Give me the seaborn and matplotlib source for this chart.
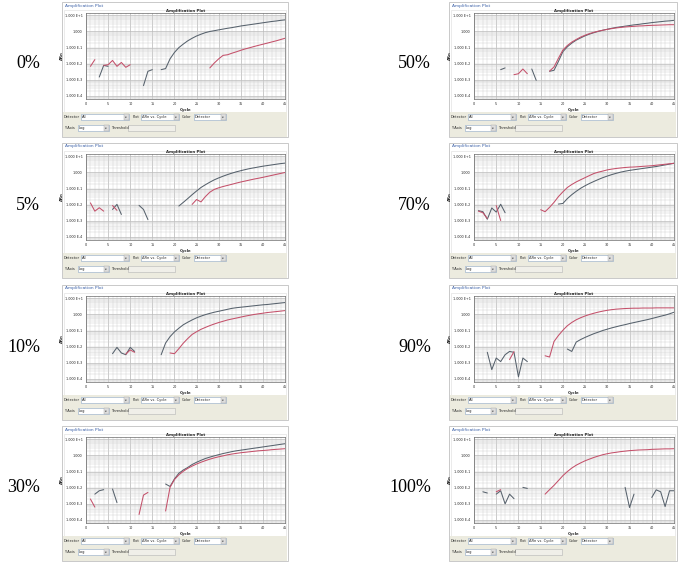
"""Eight qPCR amplification plots (Ycac / Hcac) at different mixing ratios."""

import matplotlib
matplotlib.use("Agg")
import matplotlib.pyplot as plt
from matplotlib.patches import Rectangle
from matplotlib.ticker import FixedLocator, LogLocator, NullFormatter
import numpy as np
import pandas as pd
import seaborn as sns

nan = np.nan
FIG_W, FIG_H = 689, 564

CYCLES = list(range(1, 46))
X_TICKS = list(range(0, 46, 5))
Y_TICKS = [1e1, 1e0, 1e-1, 1e-2, 1e-3, 1e-4]
Y_TICK_LABELS = ["1.000 E+1", "1.000", "1.000 E-1", "1.000 E-2", "1.000 E-3", "1.000 E-4"]
SERIES = ["Ycac", "Hcac"]
PALETTE = {"Ycac": "#56616c", "Hcac": "#c4506a"}
PANEL_LABELS = ["0%", "5%", "10%", "30%", "50%", "70%", "90%", "100%"]

# delta Rn per cycle (1..45), nan where the software drops the point
ycac_0 = ([nan, nan, 1.5e-3, 7.9e-3, 6.9e-3] + [nan] * 7 + [4.4e-4, 3.4e-3, 4.3e-3, nan]
          + [4.3e-3, 5.0e-3, 0.020, 0.050, 0.10, 0.166, 0.263, 0.38, 0.525, 0.676, 0.85, 1.0,
             1.12, 1.26, 1.41, 1.58, 1.74, 1.95, 2.19, 2.40, 2.63, 2.88, 3.16, 3.47, 3.8,
             4.17, 4.47, 4.9, 5.25])
hcac_0 = ([6.9e-3, 0.018, nan, 7.9e-3, 8.7e-3, 0.016, 6.9e-3, 0.012, 6.0e-3, 8.7e-3] + [nan] * 17
          + [5.5e-3, 0.011, 0.020, 0.033, 0.036, 0.045, 0.055, 0.068, 0.083, 0.098, 0.117,
             0.138, 0.162, 0.19, 0.224, 0.263, 0.316, 0.38])

ycac_5 = ([nan] * 5 + [5.1e-3, 0.0105, 2.5e-3] + [nan] * 3 + [9.1e-3, 5.1e-3, 1.2e-3] + [nan] * 6
          + [8.3e-3, 0.014, 0.024, 0.042, 0.071, 0.117, 0.174, 0.25, 0.35, 0.46, 0.59, 0.74,
             0.91, 1.1, 1.29, 1.51, 1.74, 1.95, 2.19, 2.45, 2.69, 2.95, 3.24, 3.55, 3.8])
hcac_5 = ([0.013, 4.0e-3, 6.5e-3, 4.0e-3, nan, 8.9e-3, 4.5e-3] + [nan] * 16
          + [0.0105, 0.021, 0.015, 0.032, 0.060, 0.089, 0.112, 0.135, 0.158, 0.186, 0.22,
             0.257, 0.295, 0.34, 0.39, 0.44, 0.50, 0.575, 0.66, 0.76, 0.87, 1.0])

ycac_10 = ([nan] * 5 + [3.7e-3, 9.1e-3, 4.1e-3, 3.2e-3, 9.1e-3, 5.1e-3] + [nan] * 5
           + [3.2e-3, 0.017, 0.042, 0.083, 0.141, 0.23, 0.33, 0.46, 0.62, 0.79, 0.98, 1.17,
              1.38, 1.58, 1.82, 2.09, 2.4, 2.63, 2.82, 3.02, 3.24, 3.47, 3.72, 3.98, 4.17,
              4.47, 4.79, 5.13, 5.5])
hcac_10 = ([nan] * 8 + [3.5e-3, 6.3e-3, 4.5e-3] + [nan] * 7
           + [4.1e-3, 3.7e-3, 7.6e-3, 0.0166, 0.032, 0.058, 0.085, 0.12, 0.158, 0.204, 0.257,
              0.316, 0.38, 0.457, 0.525, 0.60, 0.69, 0.79, 0.89, 1.0, 1.1, 1.2, 1.32, 1.41,
              1.51, 1.62, 1.74])

ycac_30 = ([nan, 4.0e-3, 6.5e-3, 7.6e-3, nan, 8.3e-3, 1.2e-3] + [nan] * 10
           + [0.017, 0.012, 0.035, 0.079, 0.126, 0.18, 0.275, 0.38, 0.50, 0.65, 0.79, 0.95,
              1.12, 1.32, 1.51, 1.74, 1.95, 2.14, 2.34, 2.57, 2.82, 3.09, 3.39, 3.72, 4.07,
              4.47, 4.9, 5.37])
hcac_30 = ([2.0e-3, 6.3e-4] + [nan] * 9 + [2.2e-4, 3.5e-3, 5.1e-3] + [nan] * 3
           + [3.6e-4, 0.0105, 0.032, 0.063, 0.105, 0.158, 0.22, 0.295, 0.38, 0.48, 0.59, 0.71,
              0.83, 0.95, 1.1, 1.23, 1.35, 1.48, 1.58, 1.7, 1.82, 1.95, 2.04, 2.14, 2.29, 2.4,
              2.51, 2.63])

ycac_50 = ([nan] * 5 + [4.3e-3, 5.5e-3] + [nan] * 5 + [4.7e-3, 9.3e-4, nan, nan]
           + [3.4e-3, 3.9e-3, 0.014, 0.056, 0.112, 0.19, 0.29, 0.40, 0.54, 0.69, 0.85, 1.02,
              1.2, 1.38, 1.58, 1.78, 1.95, 2.14, 2.34, 2.57, 2.75, 3.02, 3.24, 3.55, 3.8,
              4.07, 4.37, 4.57, 4.9])
hcac_50 = ([nan] * 8 + [2.1e-3, 2.4e-3, 4.7e-3, 2.4e-3] + [nan] * 4
           + [3.5e-3, 6.3e-3, 0.022, 0.071, 0.135, 0.22, 0.32, 0.45, 0.59, 0.74, 0.89, 1.05,
              1.2, 1.35, 1.51, 1.66, 1.78, 1.91, 2.0, 2.09, 2.19, 2.24, 2.34, 2.4, 2.45, 2.51,
              2.57, 2.63, 2.63])

ycac_70 = ([4.3e-3, 3.7e-3, 1.26e-3, 6.3e-3, 3.5e-3, 0.0107, 3.2e-3] + [nan] * 11
           + [0.011, 0.012, 0.024, 0.042, 0.068, 0.105, 0.151, 0.209, 0.28, 0.37, 0.48, 0.60,
              0.74, 0.89, 1.05, 1.2, 1.35, 1.48, 1.62, 1.78, 1.95, 2.14, 2.34, 2.63, 2.95,
              3.31, 3.72])
hcac_70 = ([4.0e-3, 3.2e-3, 1.4e-3, nan, 8.9e-3, 1.05e-3] + [nan] * 8
           + [4.9e-3, 3.7e-3, 6.9e-3, 0.014, 0.032, 0.063, 0.117, 0.18, 0.26, 0.355, 0.48,
              0.65, 0.87, 1.05, 1.23, 1.45, 1.62, 1.78, 1.91, 2.04, 2.14, 2.19, 2.29, 2.4,
              2.51, 2.63, 2.82, 3.02, 3.24, 3.47, 3.72])

ycac_90 = ([nan, nan, 4.5e-3, 3.8e-4, 2.0e-3, 1.2e-3, 3.2e-3, 5.1e-3, 4.5e-3, 1.35e-4, 2.0e-3,
            1.2e-3] + [nan] * 8
           + [7.2e-3, 5.1e-3, 0.0195, 0.028, 0.038, 0.050, 0.065, 0.081, 0.102, 0.123, 0.148,
              0.174, 0.204, 0.234, 0.275, 0.316, 0.363, 0.417, 0.479, 0.56, 0.66, 0.78, 0.91,
              1.1, 1.38])
hcac_90 = ([nan] * 7 + [1.6e-3, 5.0e-3] + [nan] * 6
           + [2.75e-3, 2.3e-3, 0.021, 0.050, 0.105, 0.20, 0.32, 0.47, 0.63, 0.81, 1.0, 1.2,
              1.41, 1.62, 1.82, 2.0, 2.14, 2.24, 2.34, 2.4, 2.45, 2.45, 2.51, 2.51, 2.51, 2.57,
              2.57, 2.57, 2.57, 2.57])

ycac_100 = ([nan, 5.6e-3, 4.7e-3, nan, 4.0e-3, 6.5e-3, 1.0e-3, 4.0e-3, 2.1e-3, nan, 0.0105,
             9.1e-3] + [nan] * 21 + [0.0105, 5.9e-4, 4.0e-3, nan, nan, nan]
            + [2.5e-3, 7.4e-3, 5.6e-3, 6.8e-4, 6.5e-3, 6.5e-3])
hcac_100 = ([nan] * 4 + [5.6e-3, 7.6e-3] + [nan] * 9
            + [4.0e-3, 7.6e-3, 0.014, 0.028, 0.056, 0.10, 0.166, 0.25, 0.347, 0.47, 0.60, 0.76,
               0.93, 1.12, 1.29, 1.45, 1.58, 1.74, 1.86, 2.0, 2.09, 2.19, 2.24, 2.29, 2.4,
               2.45, 2.51, 2.57, 2.57, 2.63])

PANEL_DATA = [
    (ycac_0, hcac_0), (ycac_5, hcac_5), (ycac_10, hcac_10), (ycac_30, hcac_30),
    (ycac_50, hcac_50), (ycac_70, hcac_70), (ycac_90, hcac_90), (ycac_100, hcac_100),
]

# layout in pixels: (frame left, frame right, axes left, axes right) per column
COLUMNS = [(62, 288, 86, 285), (449, 677, 474, 674)]
ROW_TOPS = [0, 141, 283, 424]
LABEL_RIGHT = [40, 431]


def fig_rect(x, y, w, h):
    """Pixel box with top-left origin -> figure fraction."""
    return [x / FIG_W, 1 - (y + h) / FIG_H, w / FIG_W, h / FIG_H]


def long_frame(ycac, hcac):
    parts = []
    for name, vals in zip(SERIES, (ycac, hcac)):
        assert len(vals) == len(CYCLES), (name, len(vals))
        s = pd.Series(vals, index=CYCLES, dtype=float)
        seg = s.isna().cumsum()
        d = pd.DataFrame({"cycle": CYCLES, "dRn": s.values, "seg": seg.values})
        d["series"] = name
        parts.append(d.dropna())
    return pd.concat(parts, ignore_index=True)


def dropdown(bg, x, y, w, text):
    bg.add_patch(Rectangle((x, y - 3), w, 6, fc="white", ec="#8ea6c4", lw=0.4))
    bg.add_patch(Rectangle((x + w - 5, y - 2.6), 4.6, 5.2, fc="#dedede", ec="#a4a4a4", lw=0.3))
    bg.text(x + 1, y, text, fontsize=2.6, va="center", ha="left")
    bg.text(x + w - 2.7, y + 0.2, "▼", fontsize=1.6, va="center", ha="center", color="#303030")


def draw_chrome(bg, fl, fr, top):
    w = fr - fl
    bg.add_patch(Rectangle((fl, top + 2), w, 135, fc="white", ec="#c0c0c0", lw=0.6))
    bg.add_patch(Rectangle((fl + 2, top + 10), w - 4, 102, fc="white", ec="#dcdcdc", lw=0.4))
    bg.text(fl + 3, top + 5.5, "Amplification Plot", fontsize=3.2, color="#3d62a8",
            va="center", ha="left")
    bg.add_patch(Rectangle((fl + 1, top + 112), w - 2, 24.5, fc="#ecebdf", ec="none"))
    r1, r2 = top + 117, top + 128
    bg.text(fl + 2, r1, "Detector", fontsize=2.6, va="center")
    dropdown(bg, fl + 19, r1, 48, "All")
    bg.text(fl + 71, r1, "Plot", fontsize=2.6, va="center")
    dropdown(bg, fl + 79, r1, 38, "ΔRn vs. Cycle")
    bg.text(fl + 120, r1, "Color", fontsize=2.6, va="center")
    dropdown(bg, fl + 132, r1, 32, "Detector")
    bg.text(fl + 2, r2, "Y Axis", fontsize=2.6, va="center")
    dropdown(bg, fl + 16, r2, 31, "Log")
    bg.text(fl + 49, r2, "Threshold", fontsize=2.6, va="center")
    bg.add_patch(Rectangle((fl + 66, r2 - 3), 47, 6, fc="#f0efe9", ec="#b4b4b4", lw=0.4))


def draw_plot(ax, df):
    ax.set_yscale("log")
    sns.lineplot(data=df, x="cycle", y="dRn", hue="series", units="seg", estimator=None,
                 palette=PALETTE, hue_order=SERIES, legend=False, lw=0.75, ax=ax)
    ax.set_xlim(0, 45)
    ax.set_ylim(6.5e-5, 14)
    ax.set_xticks(X_TICKS)
    ax.set_xticks(range(0, 46), minor=True)
    ax.set_xticklabels([str(t) for t in X_TICKS])
    ax.yaxis.set_major_locator(FixedLocator(Y_TICKS))
    ax.set_yticklabels(Y_TICK_LABELS)
    ax.yaxis.set_minor_locator(LogLocator(base=10, subs=np.arange(2, 10), numticks=50))
    ax.yaxis.set_minor_formatter(NullFormatter())
    ax.grid(which="major", color="#aeaeae", lw=0.45)
    ax.grid(which="minor", color="#d2d2d2", lw=0.35)
    ax.set_axisbelow(True)
    ax.tick_params(which="major", labelsize=2.4, length=1.2, width=0.4, pad=1.2, color="#555555")
    ax.tick_params(which="minor", length=0)
    ax.set_xlabel("Cycle", fontsize=2.8, fontweight="bold", labelpad=1.0)
    ax.set_ylabel("ΔRn", fontsize=2.8, fontweight="bold", labelpad=0.8)
    ax.set_title("Amplification Plot", fontsize=2.8, fontweight="bold", pad=1.0)
    for sp in ax.spines.values():
        sp.set_color("#6a6a6a")
        sp.set_linewidth(0.5)


sns.set_theme(style="white")
plt.rcParams["font.family"] = ["DejaVu Sans"]

fig = plt.figure(figsize=(FIG_W / 100, FIG_H / 100), dpi=100)
bg = fig.add_axes([0, 0, 1, 1])
bg.set_xlim(0, FIG_W)
bg.set_ylim(FIG_H, 0)
bg.axis("off")

for i, (label, (ycac, hcac)) in enumerate(zip(PANEL_LABELS, PANEL_DATA)):
    col, row = divmod(i, 4)
    fl, fr, al, ar = COLUMNS[col]
    top = ROW_TOPS[row]
    draw_chrome(bg, fl, fr, top)
    ax = fig.add_axes(fig_rect(al, top + 13, ar - al, 86))
    draw_plot(ax, long_frame(ycac, hcac))
    bg.text(LABEL_RIGHT[col], top + 64, label, fontsize=13, family="Liberation Serif",
            ha="right", va="center", color="black")

bg.text(148, 33, "Ycac", fontsize=11, family="Liberation Serif", color="#2b4a87",
        ha="left", va="center")
bg.text(241, 65, "Hcac", fontsize=11, family="Liberation Serif", color="#d23a3e",
        ha="left", va="center")

fig.savefig("out.png", dpi=100)
plt.close(fig)
